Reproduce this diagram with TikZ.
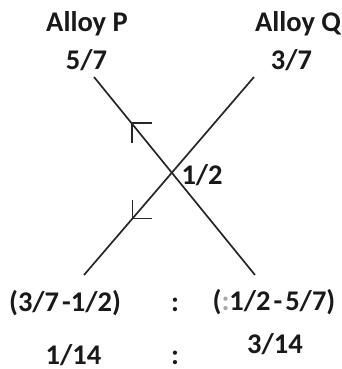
\documentclass[tikz,border=0pt]{standalone}
\usepackage{fontspec}
\setmainfont{Carlito}
\usetikzlibrary{calc}
\begin{document}
\begin{tikzpicture}[x=1pt,y=-1pt,
  lbl/.style={anchor=base,inner sep=0pt,outer sep=0pt,text=black!90,text depth=0pt,
    font=\fontsize{28.5}{32}\selectfont\bfseries},
  ln/.style={line width=1.7pt,draw=black!85},
  tick/.style={line width=1.7pt,draw=black!85,line cap=rect}]
\useasboundingbox (0,0) rectangle (341,369);
% labels
\node[lbl] (alp) at (87,32) {Alloy P};
\node[lbl,anchor=base east] (alq) at (341,32) {Alloy Q};
\node[lbl] (p) at (86.5,70) {5/7};
\node[lbl] (q) at (291.5,70) {3/7};
\node[lbl,anchor=base west] (m) at (181.5,184) {1/2};
\node[lbl] (d1) at (65,311) {(3/7\hspace{3pt}-1/2)};
\node[lbl] (c1) at (175,311) {:};
\node[lbl] (d2) at (274,310) {({\color{black!35}:}1/2\hspace{3pt}-\hspace{3pt}5/7)};
\node[lbl] (r1) at (73.5,364) {1/14};
\node[lbl] (c2) at (175,364) {:};
\node[lbl] (r2) at (275,353) {3/14};
% cross lines
\coordinate (pt) at (94,77);
\coordinate (pb) at (255,275);
\coordinate (qt) at (254,77);
\coordinate (qb) at (84,275);
\draw[ln] (pt) -- (pb);
\draw[ln] (qt) -- (qb);
% arrow marks
\coordinate (a1) at ($(pt)!0.234!(pb)$);
\coordinate (a2) at ($(qt)!0.715!(qb)$);
\draw[tick] ($(a1)+(19,0)$) -- (a1) -- ($(a1)+(0,19)$);
\draw[tick] ($(a2)+(0,-18)$) -- (a2) -- ($(a2)+(19,0)$);
\end{tikzpicture}
\end{document}
